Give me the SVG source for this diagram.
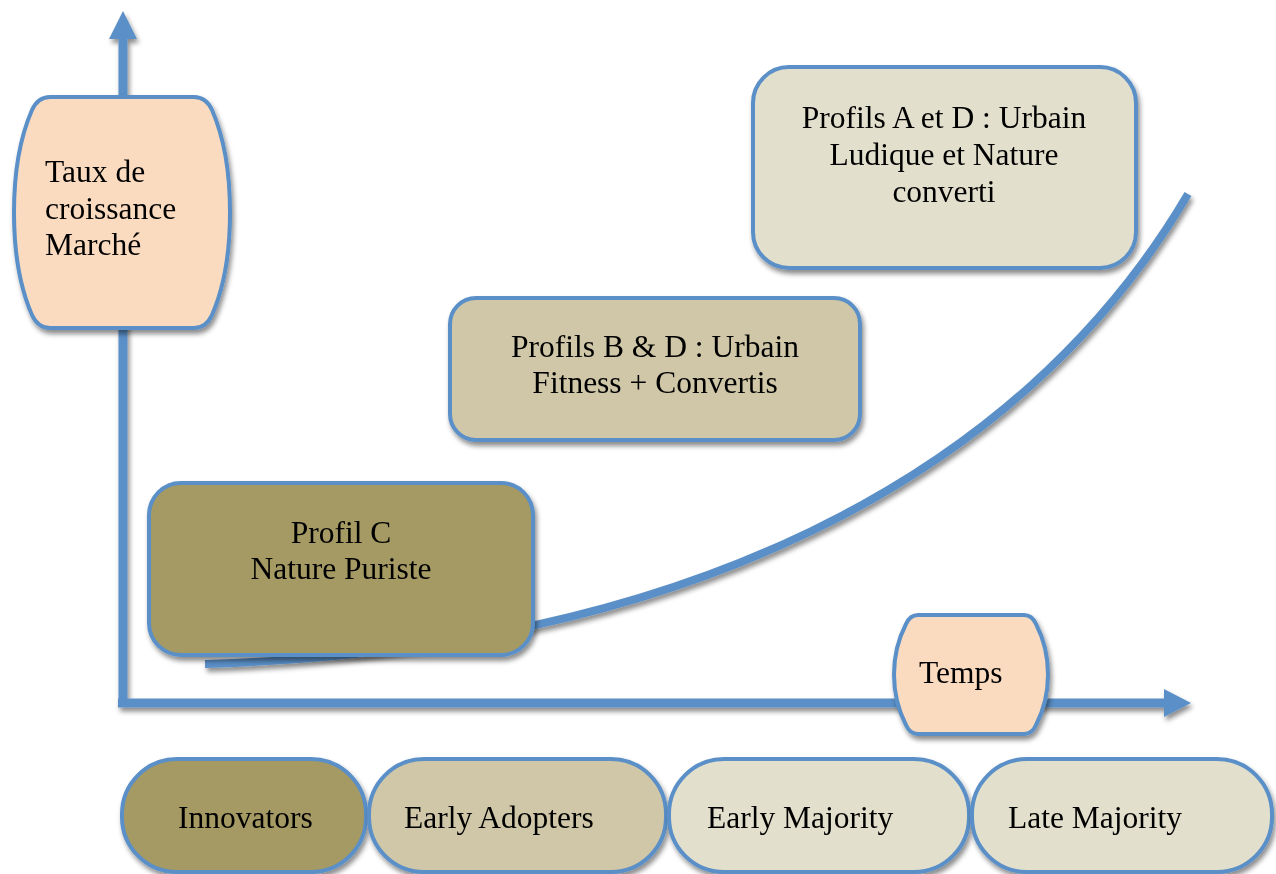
<svg xmlns="http://www.w3.org/2000/svg" width="1276" height="874" viewBox="0 0 1276 874">
<defs>
<filter id="sh" x="-10%" y="-10%" width="125%" height="130%">
<feDropShadow dx="2" dy="4" stdDeviation="2.5" flood-color="#000" flood-opacity="0.45"/>
</filter>
<style>
.ax{stroke:#5A8FC7;stroke-width:9;fill:none}
.ah{fill:#5A8FC7}
.nd{stroke:#5A8FC7;stroke-width:4}
.peach{fill:#FBDBC0}
.olive{fill:#A59A63}
.tan{fill:#CFC7A7}
.light{fill:#E2DFCC}
text{font-family:"Liberation Serif","Times New Roman",serif;font-size:31.5px;fill:#000}
.c{text-anchor:middle}
</style>
</defs>
<rect width="1276" height="874" fill="#fff"/>
<g id="connectors" filter="url(#sh)">
<line class="ax" x1="123" y1="36" x2="123" y2="707"/>
<polygon class="ah" points="109,39 123,11 137,39"/>
<line class="ax" x1="118" y1="703" x2="1166" y2="703"/>
<polygon class="ah" points="1164,689 1191,703 1164,717"/>
<path d="M205,664 C680,650 1020,480 1188,194" fill="none" stroke="#5A8FC7" stroke-width="8"/>
</g>
<g id="taux" filter="url(#sh)">
<path class="nd peach" d="M50,97 H194 Q206,97 212,110 C236,165 236,260 212,315 Q206,328 194,328 H50 Q38,328 32,315 C8,260 8,165 32,110 Q38,97 50,97 Z"/>
<text x="45" y="182">Taux de</text>
<text x="45" y="219">croissance</text>
<text x="45" y="255">Marché</text>
</g>
<g id="temps" filter="url(#sh)">
<path class="nd peach" d="M918,615 H1024 Q1032,615 1036,624 C1052,655 1052,694 1036,725 Q1032,734 1024,734 H918 Q910,734 906,725 C890,694 890,655 906,624 Q910,615 918,615 Z"/>
<text x="919" y="683">Temps</text>
</g>
<g id="profilAD" filter="url(#sh)">
<rect class="nd light" x="753" y="67" width="383" height="201" rx="36"/>
<text class="c" x="944" y="128">Profils A et D : Urbain</text>
<text class="c" x="944" y="165">Ludique et Nature</text>
<text class="c" x="944" y="202">converti</text>
</g>
<g id="profilBD" filter="url(#sh)">
<rect class="nd tan" x="450" y="298" width="410" height="142" rx="26"/>
<text class="c" x="655" y="357">Profils B &amp; D : Urbain</text>
<text class="c" x="655" y="393">Fitness + Convertis</text>
</g>
<g id="profilC" filter="url(#sh)">
<rect class="nd olive" x="149" y="483" width="384" height="172" rx="32"/>
<text class="c" x="341" y="543">Profil C</text>
<text class="c" x="341" y="579">Nature Puriste</text>
</g>
<g id="innovators" filter="url(#sh)">
<rect class="nd olive" x="122" y="759" width="244" height="113" rx="55"/>
<text x="178" y="828">Innovators</text>
</g>
<g id="earlyAdopters" filter="url(#sh)">
<rect class="nd tan" x="369" y="759" width="297" height="113" rx="55"/>
<text x="404" y="828">Early Adopters</text>
</g>
<g id="earlyMajority" filter="url(#sh)">
<rect class="nd light" x="669" y="759" width="300" height="113" rx="55"/>
<text x="707" y="828">Early Majority</text>
</g>
<g id="lateMajority" filter="url(#sh)">
<rect class="nd light" x="972" y="759" width="300" height="113" rx="55"/>
<text x="1008" y="828">Late Majority</text>
</g>
</svg>
